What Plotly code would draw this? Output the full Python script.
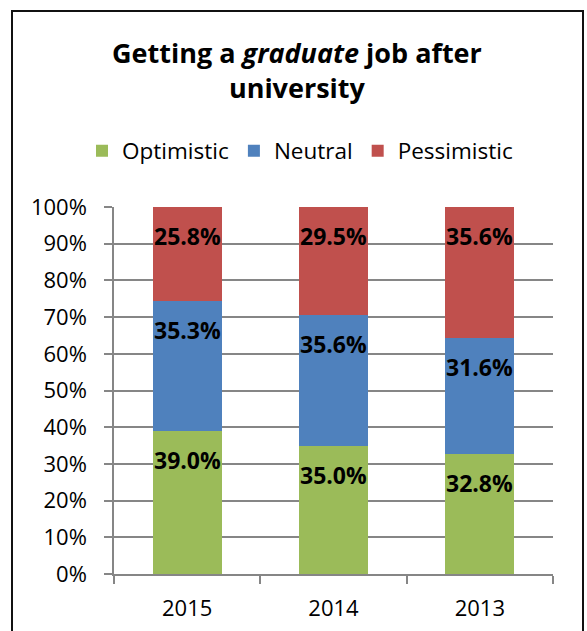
import plotly.graph_objects as go

years = ["2015", "2014", "2013"]
optimistic = [0.390, 0.350, 0.328]
neutral = [0.353, 0.356, 0.316]
pessimistic = [0.258, 0.295, 0.356]
series_names = ["Optimistic", "Neutral", "Pessimistic"]
colors = ["#9BBB59", "#4F81BD", "#C0504D"]

W, H = 587, 631
L, R, T, B = 114, 34, 207, 57
pw, ph = W - L - R, H - T - B

FONT = "Open Sans"

fig = go.Figure()
series = [optimistic, neutral, pessimistic]
for name, vals, col in zip(series_names, series, colors):
    fig.add_trace(go.Bar(x=years, y=vals, name=name, marker=dict(color=col, line=dict(width=0)),
                         width=0.47))

# data labels near top of each segment
annotations = []
cum = [0.0] * len(years)
for vals in series:
    for i, v in enumerate(vals):
        cum[i] += v
        annotations.append(dict(x=i, y=min(cum[i], 1.0), xref="x", yref="y",
                                text="<b>%.1f%%</b>" % (v * 100), showarrow=False,
                                yshift=-29, yanchor="middle",
                                font=dict(family=FONT, size=23, color="black")))

annotations.append(dict(text="<b>Getting a <i>graduate</i> job after<br>university</b>",
                        xref="paper", yref="paper", x=(297 - L) / pw, y=(H - B - 70) / ph,
                        xanchor="center", yanchor="middle", showarrow=False,
                        font=dict(family=FONT, size=27, color="black")))

fig.update_layout(
    width=W, height=H,
    margin=dict(l=L, r=R, t=T, b=B, autoexpand=False),
    barmode="stack",
    paper_bgcolor="white", plot_bgcolor="white",
    font=dict(family=FONT, color="black"),
    showlegend=True,
    legend=dict(orientation="h", x=(300 - L) / pw, xanchor="center",
                y=(H - B - 151) / ph, yanchor="middle",
                font=dict(family=FONT, size=22.5, color="black"),
                traceorder="normal", itemclick=False),
    annotations=annotations,
    shapes=[dict(type="rect", xref="paper", yref="paper",
                 x0=(12 - L) / pw, x1=(583 - L) / pw,
                 y0=(H - B - 660) / ph, y1=(H - B - 11) / ph,
                 line=dict(color="#111111", width=2), fillcolor="rgba(0,0,0,0)", layer="below")],
)

fig.update_xaxes(type="category", range=[-0.5, 2.5], showline=True, linecolor="#868686", linewidth=1.5,
                 ticks="outside", tickson="boundaries", ticklen=8, tickcolor="#868686", tickwidth=1.5,
                 tickfont=dict(family=FONT, size=22, color="black"), ticklabelstandoff=14,
                 showgrid=False, fixedrange=True)
fig.update_yaxes(range=[0, 1], dtick=0.1, tickformat=".0%", showline=True, linecolor="#868686",
                 linewidth=1.5, ticks="outside", ticklen=8, tickcolor="#868686", tickwidth=1.5,
                 showgrid=True, gridcolor="#868686", gridwidth=1.5,
                 tickfont=dict(family=FONT, size=22, color="black"), ticklabelstandoff=13,
                 zeroline=False, fixedrange=True)

fig.write_html("out.html", config={"displayModeBar": False},
               post_script="document.body.style.margin='0';document.body.style.padding='0';")
